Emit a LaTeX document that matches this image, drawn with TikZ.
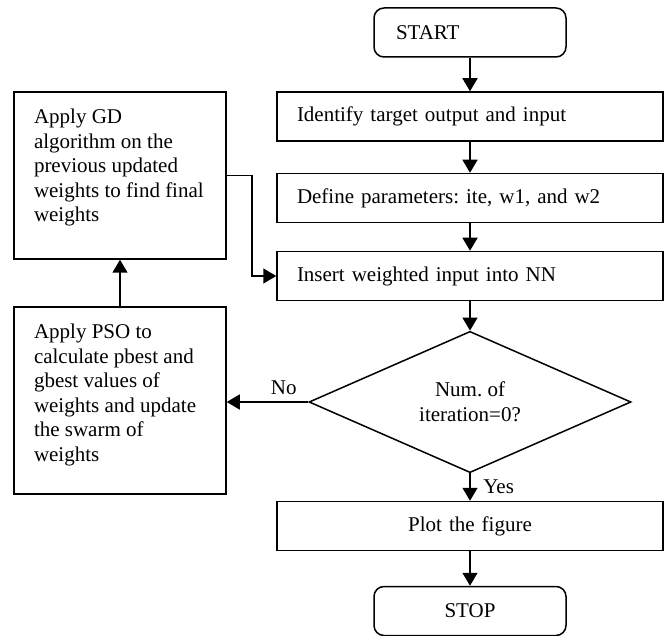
\documentclass[tikz,border=0pt]{standalone}
\usepackage{fontspec}
\setmainfont{Liberation Serif}
\usepackage{tikz}
\usetikzlibrary{shapes.geometric,arrows.meta}
\newcommand{\sidetext}[2]{\parbox[c][#1][t]{86pt}{\raggedright #2}}
\frenchspacing

\begin{document}
\begin{tikzpicture}[x=0.5pt,y=-0.5pt,
  font=\fontsize{10.5pt}{12.3pt}\selectfont,
  mainbox/.style={draw,line width=0.75pt,minimum height=24.5pt,text width=173pt,inner xsep=10pt,align=left},
  termbox/.style={draw,line width=0.75pt,rounded corners=5pt,minimum height=24.5pt,text width=74pt,inner xsep=11pt},
  sidebox/.style={draw,line width=0.75pt,inner xsep=10pt,inner ysep=8.5pt},
  decision/.style={draw,line width=0.75pt,diamond,minimum width=161pt,minimum height=64.5pt,inner sep=0pt,align=center},
  arr/.style={line width=0.75pt,-{Triangle[length=6.5pt,width=7.5pt]}}]
\useasboundingbox (0,0) rectangle (669,636);

\node[termbox,align=left] (start) at (470,32.5) {START};
\node[mainbox] (ident) at (470,116.5) {Identify target output and input};
\node[mainbox] (define) at (470,198) {Define parameters: ite, w1, and w2};
\node[mainbox] (ins) at (470,276) {Insert weighted input into NN};
\node[decision] (dec) at (470,402) {Num. of\\iteration=0?};
\node[mainbox,align=center] (plot) at (470,526) {Plot the figure};
\node[termbox,align=center] (stop) at (470,611) {STOP};

\node[sidebox] (gd) at (120,175.5) {\sidetext{66.5pt}{Apply GD\\ algorithm on the\\ previous updated\\ weights to find final\\ weights}};
\node[sidebox] (pso) at (120,400.5) {\sidetext{76.5pt}{Apply PSO to\\ calculate pbest and\\ gbest values of\\ weights and update\\ the swarm of\\ weights}};

\draw[arr] (start) -- (ident);
\draw[arr] (ident) -- (define);
\draw[arr] (define) -- (ins);
\draw[arr] (ins) -- (dec.north);
\draw[arr] (dec.south) -- node[right=3pt] {Yes} (plot);
\draw[arr] (plot) -- (stop);
\draw[arr] (dec.west) -- node[above,pos=0.3] {No} (dec.west -| pso.east);
\draw[arr] (pso) -- (gd);
\draw[arr] (gd.east) -- ++(25,0) |- (ins.west);
\end{tikzpicture}
\end{document}
